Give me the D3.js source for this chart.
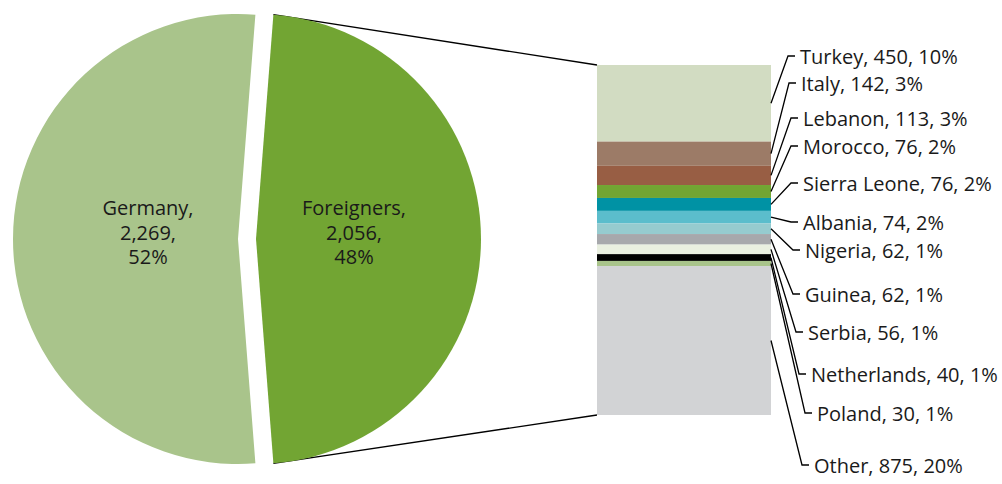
<!DOCTYPE html>
<html><head><meta charset="utf-8">
<script src="https://cdn.jsdelivr.net/npm/d3@7"></script>
<style>
html,body{margin:0;padding:0;background:#fff;}
svg{display:block;}
text{font-family:"Open Sans",sans-serif;fill:#1a1a1a;}
</style></head>
<body>
<svg id="chart" width="1002" height="484"></svg>
<script>
// ---- data ----
const pieCategories = ["Germany", "Foreigners"];
const pieValues = [2269, 2056];
const piePercents = ["52%", "48%"];

const barCategories = ["Turkey","Italy","Lebanon","Morocco","Sierra Leone","Albania","Nigeria","Guinea","Serbia","Netherlands","Poland","Other"];
const barValues = [450,142,113,76,76,74,62,62,56,40,30,875];
const barPercents = ["10%","3%","3%","2%","2%","2%","1%","1%","1%","1%","1%","20%"];

// ---- styles / layout ----
const pieColors = ["#a9c48b", "#72a533"];
const barColors = ["#d2dcc2","#9c7b67","#985e44","#72a533","#0092a4","#5bbdcc","#96cbcf","#a7a8ac","#e9efe0","#000000","#a9c48b","#d2d3d5"];
const labelX = [800,801,803,803,803,803,805,805,808,811,817,814];
const labelY = [56,83,118,146,183,222,250,294,332,374,413,465];
const fontSize = 20;

const svg = d3.select("#chart");
const cx = 238, cy = 239, R = 225, explode = 18;
const fmt = d3.format(",");

const total = d3.sum(pieValues);
const G = pieValues[0] / total * 2 * Math.PI;
const F = pieValues[1] / total * 2 * Math.PI;
const start = 2.5 * Math.PI - G - F / 2;
const pie = d3.pie().sort(null).value(d => d).startAngle(start).endAngle(start + 2 * Math.PI);
const arcs = pie(pieValues);
const arc = d3.arc().innerRadius(0).outerRadius(R);

// bar geometry
const barX0 = 597, barX1 = 771;
const y = d3.scaleLinear().domain([0, d3.sum(barValues)]).range([65, 415]);
const cum = d3.cumsum(barValues);
const segs = barValues.map((v, i) => ({v, i, y0: cum[i] - v, y1: cum[i]}));

// connector lines (drawn before slices)
const fa = arcs[1];
const fmid = (fa.startAngle + fa.endAngle) / 2;
const fcx = cx + explode * Math.sin(fmid);
const fcy = cy - explode * Math.cos(fmid);
const pt = a => [fcx + R * Math.sin(a), fcy - R * Math.cos(a)];
const pEnd = pt(fa.endAngle), pStart = pt(fa.startAngle);
const topPt = pStart[1] < pEnd[1] ? pStart : pEnd;
const botPt = pStart[1] < pEnd[1] ? pEnd : pStart;
svg.append("line").attr("x1", topPt[0]).attr("y1", topPt[1]).attr("x2", barX0).attr("y2", y(0))
  .attr("stroke", "#000").attr("stroke-width", 1.3);
svg.append("line").attr("x1", botPt[0]).attr("y1", botPt[1]).attr("x2", barX0).attr("y2", y(d3.sum(barValues)))
  .attr("stroke", "#000").attr("stroke-width", 1.3);

// pie slices
const labelOffsets = [90, 98];
arcs.forEach((a, i) => {
  const mid = (a.startAngle + a.endAngle) / 2;
  const off = i === 1 ? explode : 0;
  const ox = cx + off * Math.sin(mid), oy = cy - off * Math.cos(mid);
  const g = svg.append("g").attr("transform", `translate(${ox},${oy})`);
  g.append("path").attr("d", arc(a)).attr("fill", pieColors[i]);
  const lr = labelOffsets[i];
  const lx = lr * Math.sin(mid), ly = -lr * Math.cos(mid) - 7;
  const lines = [pieCategories[i] + ",", fmt(pieValues[i]) + ",", piePercents[i]];
  lines.forEach((t, k) => {
    g.append("text").attr("x", lx).attr("y", ly + (k - 1) * 24.5)
      .attr("text-anchor", "middle").attr("dominant-baseline", "central")
      .attr("font-size", fontSize).text(t);
  });
});

// stacked bar
svg.append("g").selectAll("rect").data(segs).join("rect")
  .attr("x", barX0).attr("width", barX1 - barX0)
  .attr("y", d => y(d.y0)).attr("height", d => y(d.y1) - y(d.y0))
  .attr("fill", d => barColors[d.i]);

// leaders + labels
segs.forEach(d => {
  const my = (y(d.y0) + y(d.y1)) / 2;
  const tx = labelX[d.i], ty = labelY[d.i];
  svg.append("polyline")
    .attr("points", `${barX1},${my} ${tx - 12},${ty} ${tx - 5},${ty}`)
    .attr("fill", "none").attr("stroke", "#000").attr("stroke-width", 1.3);
  svg.append("text").attr("x", tx).attr("y", ty).attr("dominant-baseline", "central")
    .attr("font-size", fontSize)
    .text(`${barCategories[d.i]}, ${fmt(d.v)}, ${barPercents[d.i]}`);
});
</script>
</body></html>
